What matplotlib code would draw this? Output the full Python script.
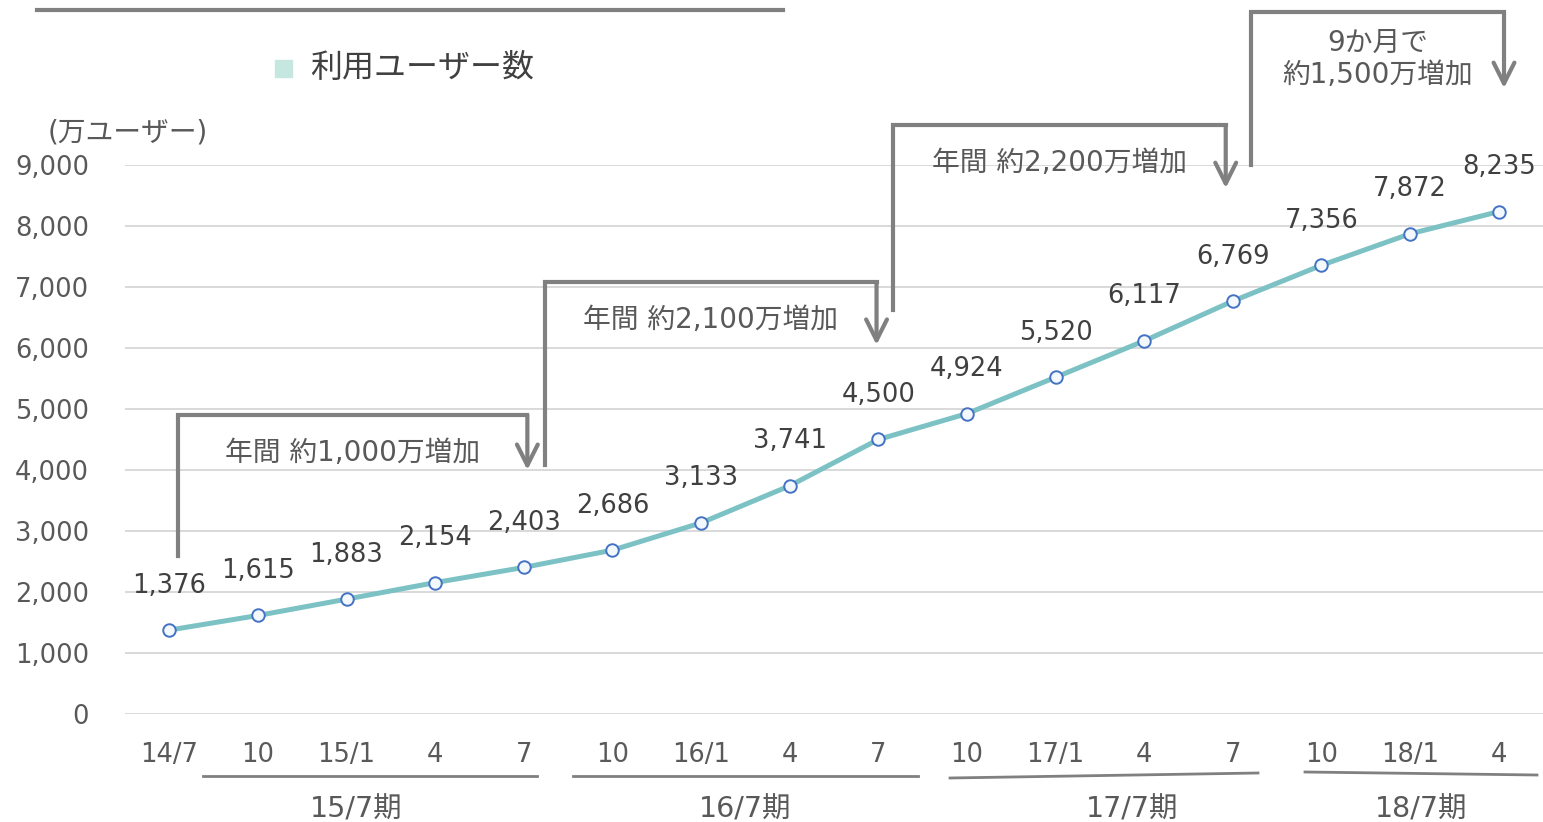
import matplotlib.pyplot as plt
from matplotlib.lines import Line2D

plt.rcParams['font.family'] = ['DejaVu Sans', 'Noto Sans CJK JP']

months = ['14/7', '10', '15/1', '4', '7', '10', '16/1', '4', '7',
          '10', '17/1', '4', '7', '10', '18/1', '4']
users = [1376, 1615, 1883, 2154, 2403, 2686, 3133, 3741, 4500,
         4924, 5520, 6117, 6769, 7356, 7872, 8235]
periods = ['15/7期', '16/7期', '17/7期', '18/7期']
yticks = list(range(0, 9001, 1000))

# bracket arrows: (x start, y start, y top, x end, y tip, label)
brackets = [
    (0.10, 2590, 4900, 4.04, 4000, '年間 約1,000万増加'),
    (4.24, 4080, 7080, 7.98, 6050, '年間 約2,100万増加'),
    (8.17, 6620, 9650, 11.92, 8620, '年間 約2,200万増加'),
    (12.21, 9000, 11500, 15.06, 10260, '9か月で\n約1,500万増加'),
]

W, H = 1543, 822
fig = plt.figure(figsize=(W / 100, H / 100), dpi=100)
ax = fig.add_axes([125 / W, (H - 714) / H, 1 - 125 / W, 549 / H])

line_c = '#7cc2c5'
grey = '#808080'
txt = '#404040'

x = list(range(len(users)))
ax.plot(x, users, color=line_c, lw=3.6, zorder=3,
        marker='o', ms=9, mfc='#f2f8fc', mec='#4472c4', mew=1.4)
for xi, v in zip(x, users):
    ax.annotate(f'{v:,}', (xi, v), xytext=(0, 32), textcoords='offset points',
                ha='center', va='center', fontsize=18.5, color=txt)

ax.set_xlim(-0.5, 15.5)
ax.set_ylim(0, 9000)
ax.set_yticks(yticks)
ax.set_yticklabels([f'{t:,}' for t in yticks], fontsize=18.5, color='#595959')
ax.set_xticks(x)
ax.set_xticklabels(months, fontsize=18.5, color='#595959')
ax.tick_params(length=0, axis='y', pad=26)
ax.tick_params(length=0, axis='x', pad=20)
for s in ax.spines.values():
    s.set_visible(False)
ax.grid(axis='y', color='#d9d9d9', lw=1.4)
ax.set_axisbelow(True)

for x0, y0, ytop, x1, ytip, label in brackets:
    ax.plot([x0, x0, x1], [y0, ytop, ytop], color=grey, lw=3, clip_on=False,
            solid_joinstyle='miter', zorder=4)
    ax.annotate('', xy=(x1, ytip), xytext=(x1, ytop), annotation_clip=False,
                arrowprops=dict(arrowstyle='->,head_length=1.5,head_width=0.75',
                                color=grey, lw=3, shrinkA=0, shrinkB=0))
    xm = (x0 + x1) / 2
    if '\n' in label:
        ax.text(xm, ytop - 760, label, ha='center', va='center', fontsize=20,
                color='#595959', linespacing=1.2, clip_on=False)
    else:
        ax.text(xm, ytop - 620, label, ha='center', va='center', fontsize=20,
                color='#595959', clip_on=False)

# top rule and legend
fig.add_artist(Line2D([37 / W, 783 / W], [1 - 10 / H] * 2, color=grey, lw=3))
fig.patches.append(plt.Rectangle((275 / W, 1 - 77 / H), 17 / W, 17 / H,
                                 color='#c6e7e0', transform=fig.transFigure))
fig.text(310 / W, 1 - 68 / H, '利用ユーザー数', fontsize=23, color='#404040',
         va='center', ha='left')
fig.text(128 / W, 1 - 132 / H, '(万ユーザー)', fontsize=20, color='#595959',
         va='center', ha='center')

# fiscal year groups under the month labels
groups = [((203, 776), (537, 776)), ((573, 776), (918, 776)),
          ((950, 778), (1258, 773)), ((1305, 772), (1537, 775))]
centers = [356, 745, 1132, 1421]
for ((xa, ya), (xb, yb)), cx, p in zip(groups, centers, periods):
    fig.add_artist(Line2D([xa / W, xb / W], [1 - ya / H, 1 - yb / H],
                          color=grey, lw=2))
    fig.text(cx / W, 1 - 809 / H, p, fontsize=20.5, color='#595959',
             ha='center', va='center')

fig.savefig('out.png', dpi=100)
